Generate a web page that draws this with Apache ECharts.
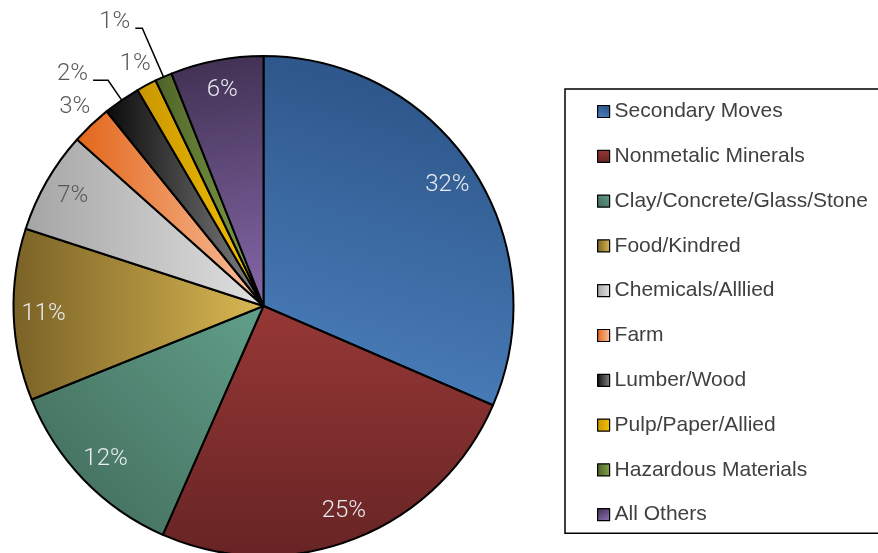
<!DOCTYPE html>
<html>
<head>
<meta charset="utf-8">
<script src="https://cdn.jsdelivr.net/npm/echarts@6/dist/echarts.min.js"></script>
<style>
html,body{margin:0;padding:0;background:#fff;}
#chart{width:878px;height:553px;}
</style>
</head>
<body>
<div id="chart"></div>
<script>
const categories = ['Secondary Moves','Nonmetalic Minerals','Clay/Concrete/Glass/Stone','Food/Kindred','Chemicals/Alllied','Farm','Lumber/Wood','Pulp/Paper/Allied','Hazardous Materials','All Others'];
const values = [31.5, 25.1, 12.3, 11.1, 6.6, 2.6, 2.4, 1.3, 1.1, 6.0];

// styling (not data)
const colorFrom = ['#2a5284','#963836','#619f8a','#7a6226','#a5a5a5','#e2661a','#0a0a0a','#c99600','#4e6227','#3f2f50'];
const colorTo   = ['#4b7fbd','#672424','#406858','#dab852','#e0e0e0','#f9c09e','#858585','#f5c200','#82a24a','#8367a6'];
const gradDir   = [[0.7,0,0.3,1],[0,0,0,1],[1,0,0,1],[0,0,1,0],[0,0,1,0],[0,0,1,0],[0,0,1,0],[0,0,1,0],[0,0,1,0],[0,0,0.5,1]];
const labelMode = ['in','in','in','in','in','out','leader','out','leader','in'];
const labelColor = ['#e9ecf2','#e9ecf2','#e9ecf2','#e9ecf2','#595959','#595959','#595959','#595959','#595959','#e9ecf2'];
const leaderLen = {6:[24,15], 8:[53,7]};

const CX = 263.5, CY = 306, R = 250;
const pctFont = "Roboto,'Open Sans',sans-serif";
const fmt = p => Math.round(p.percent) + '%';
const fmtRaised = p => Math.round(p.percent) + '%\n ';

function grad(i){
  const d = gradDir[i];
  return new echarts.graphic.LinearGradient(d[0],d[1],d[2],d[3],[{offset:0,color:colorFrom[i]},{offset:1,color:colorTo[i]}]);
}

const mainData = categories.map((name,i)=>{
  const item = {name, value: values[i], itemStyle:{color: grad(i)}};
  if (labelMode[i]==='leader'){
    item.label = {show:true, position:'outside', color:labelColor[i], formatter:fmtRaised, lineHeight:13};
    item.labelLine = {show:true, length:leaderLen[i][0], length2:leaderLen[i][1]};
  } else {
    item.label = {show:false};
    item.labelLine = {show:false};
  }
  return item;
});

function ringData(mode){
  return categories.map((name,i)=>({
    name, value: values[i],
    label:{show: labelMode[i]===mode, color: labelColor[i]}
  }));
}

const ringCommon = {
  type:'pie', center:[CX,CY], silent:true, clockwise:true, startAngle:90,
  avoidLabelOverlap:false,
  labelLayout:{hideOverlap:false},
  itemStyle:{color:'transparent', borderWidth:0},
  label:{position:'inside', formatter:fmt, fontFamily:pctFont, fontWeight:300, fontSize:24},
  labelLine:{show:false},
  emphasis:{disabled:true}
};

const option = {
  animation:false,
  backgroundColor:'#ffffff',
  legend:{
    orient:'vertical',
    left:565, top:89,
    data:categories,
    icon:'rect',
    itemWidth:12, itemHeight:12,
    itemGap:23.8,
    padding:[12,22,8,32],
    borderColor:'#000', borderWidth:1.5,
    itemStyle:{borderColor:'#000', borderWidth:1.2},
    textStyle:{fontFamily:"'Liberation Sans',Arial,sans-serif", fontSize:21, color:'#404040', lineHeight:21},
    selectedMode:false
  },
  series:[
    {
      type:'pie', center:[CX,CY], radius:R, clockwise:true, startAngle:90,
      avoidLabelOverlap:false,
      labelLayout:{hideOverlap:false},
      itemStyle:{borderColor:'#000', borderWidth:2},
      label:{show:false, formatter:fmt, fontFamily:pctFont, fontWeight:300, fontSize:24, distanceToLabelLine:5},
      labelLine:{lineStyle:{color:'#000', width:1.5}, smooth:false},
      emphasis:{disabled:true},
      data: mainData
    },
    Object.assign({}, ringCommon, {radius:[184,R], data: ringData('in')}),
    Object.assign({}, ringCommon, {radius:[R,292], data: ringData('out')})
  ]
};

const chart = echarts.init(document.getElementById('chart'), null, {renderer:'canvas'});
chart.setOption(option);
</script>
</body>
</html>
